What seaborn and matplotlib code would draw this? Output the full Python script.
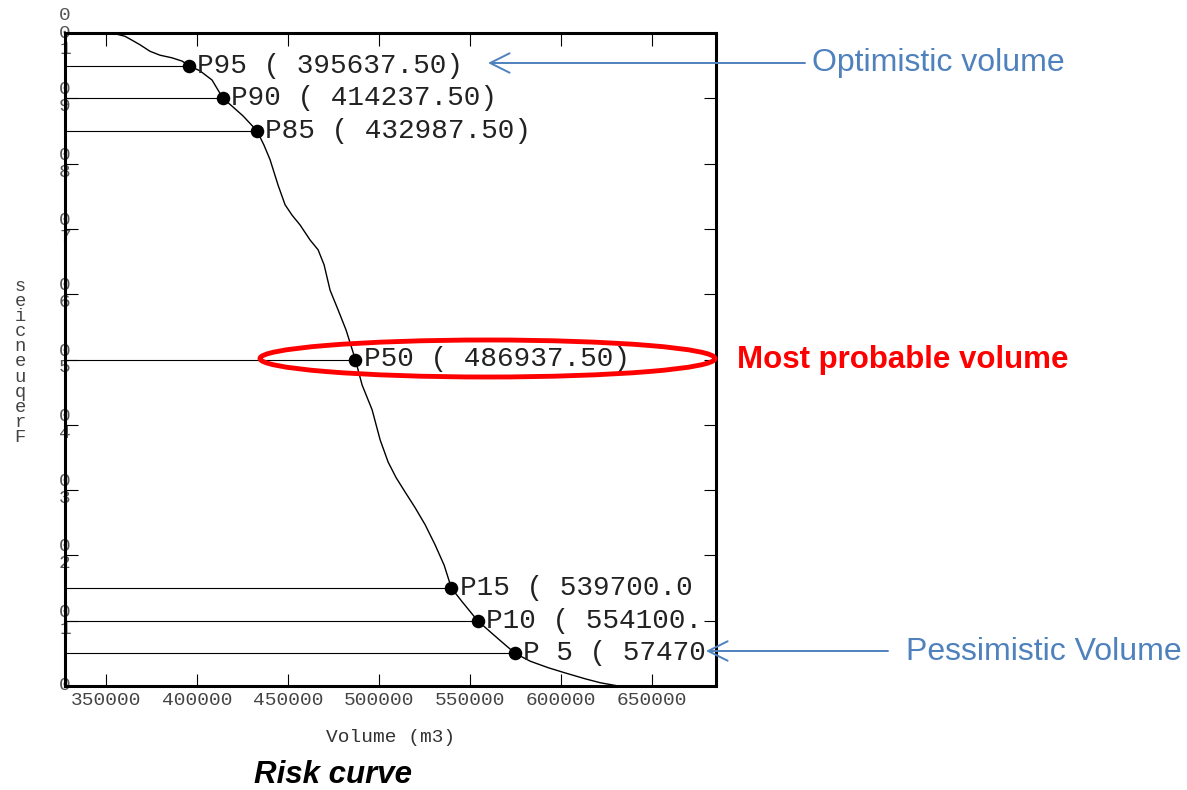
import matplotlib
matplotlib.use("Agg")
import matplotlib.pyplot as plt
import seaborn as sns
import numpy as np
from matplotlib.patches import Ellipse, FancyArrowPatch

# ---------------- data ----------------
curve_volume = [353300, 360440, 364290, 368680, 374180, 379670, 386260, 391760,
                395640, 401650, 408240, 414240, 419230, 425270, 432990, 436810,
                440110, 444510, 448350, 452200, 456600, 462090, 466490, 469780,
                473080, 477470, 481870, 486940, 490650, 496150, 500550, 504940,
                509340, 514280, 519780, 525270, 530770, 535710, 539700, 545600,
                554100, 560990, 567580, 574700, 582960, 592860, 602200, 613190,
                621430, 631320]
curve_freq = [1.000, 0.995, 0.989, 0.982, 0.972, 0.966, 0.962, 0.957,
              0.950, 0.942, 0.928, 0.900, 0.888, 0.873, 0.850, 0.828,
              0.806, 0.767, 0.737, 0.721, 0.706, 0.683, 0.668, 0.645,
              0.606, 0.576, 0.545, 0.500, 0.461, 0.423, 0.377, 0.343,
              0.319, 0.297, 0.273, 0.247, 0.216, 0.185, 0.150, 0.129,
              0.100, 0.083, 0.067, 0.050, 0.038, 0.028, 0.020, 0.011,
              0.005, 0.000]

pct_names = [95, 90, 85, 50, 15, 10, 5]
pct_volume = [395637.50, 414237.50, 432987.50, 486937.50, 539700.00, 554100.00, 574700.00]
pct_freq = [0.95, 0.90, 0.85, 0.50, 0.15, 0.10, 0.05]

x_ticks = [350000, 400000, 450000, 500000, 550000, 600000, 650000]
y_ticks = [0.0, 0.1, 0.2, 0.3, 0.4, 0.5, 0.6, 0.7, 0.8, 0.9, 1.0]
y_ticklabels = ["0", "0\n1", "0\n2", "0\n3", "0\n4", "0\n5", "0\n6", "0\n7", "0\n8", "0\n9", "0\n0\n1"]

x_label = "Volume (m3)"
y_label = "Frequencies"
title = "Risk curve"
note_opt = "Optimistic volume"
note_pess = "Pessimistic Volume"
note_most = "Most probable volume"

# ---------------- style ----------------
sns.set_style("white")
MONO = ["Liberation Mono", "DejaVu Sans Mono"]
SANS = ["Liberation Sans", "DejaVu Sans"]
plt.rcParams["font.family"] = SANS

W, H = 1187, 790
DPI = 100
fig = plt.figure(figsize=(W / DPI, H / DPI), dpi=DPI)
L, R, T, B = 65, 716, 33, 686
ax = fig.add_axes([L / W, 1 - B / H, (R - L) / W, (B - T) / H])
ax.set_facecolor("white")

# curve
sns.lineplot(x=curve_volume, y=curve_freq, sort=False, estimator=None,
             color="black", lw=1.0, ax=ax, zorder=3)

xmin, xmax = 327500, 685000
ax.set_xlim(xmin, xmax)
ax.set_ylim(0, 1)

# percentile guide lines and dots
ax.hlines(pct_freq, xmin, pct_volume, color="black", lw=0.8, zorder=2)
sns.scatterplot(x=pct_volume, y=pct_freq, color="black", s=95, edgecolor="black",
                linewidth=0, ax=ax, zorder=4)

# labels: whole characters only, truncated where they would leave the frame
LABEL_FS = 20
char_w = 0.6 * LABEL_FS * DPI / 72.0
offset_px = 6 * DPI / 72.0
limit_px = 708
for n, v, f in zip(pct_names, pct_volume, pct_freq):
    full = f"P{n:2d} ({v:10.2f})"
    x_px = (v - xmin) / (xmax - xmin) * (R - L) + L + offset_px
    nfit = int((limit_px - x_px) // char_w)
    txt = full[:max(0, nfit)]
    ax.annotate(txt, xy=(v, f), xytext=(6, 0),
                textcoords="offset points", va="center", ha="left",
                fontsize=LABEL_FS, family=MONO, color="#222222",
                annotation_clip=False, zorder=5)

# axes styling
for s in ax.spines.values():
    s.set_visible(True)
    s.set_color("black")
    s.set_linewidth(2.2)
ax.set_xticks(x_ticks)
ax.set_xticklabels([str(t) for t in x_ticks], family=MONO, fontsize=14, color="#444444")
ax.set_yticks(y_ticks)
ax.set_yticklabels(y_ticklabels, family=MONO, fontsize=14, color="#555555",
                   ha="center", va="center", linespacing=1.0)
ax.tick_params(axis="both", which="both", direction="in", length=9, width=0.8,
               color="black", top=True, right=True, bottom=True, left=True,
               labeltop=False, labelright=False)
ax.tick_params(axis="x", pad=4)
ax.tick_params(axis="y", pad=0)

ax.set_xlabel(x_label, family=MONO, fontsize=14, color="#333333", va="center")
ax.xaxis.set_label_coords((391 - L) / (R - L), -(738 - B) / (B - T))
ax.set_ylabel("\n".join(y_label[::-1]), rotation=0, family=MONO, fontsize=13.5,
              color="#444444", linespacing=0.86, ha="center", va="center")
ax.yaxis.set_label_coords((20 - L) / (R - L), (B - 362) / (B - T))

# ---------------- annotations outside the plot ----------------
blue = "#4F81BD"
fig.text(812 / W, 1 - 63 / H, note_opt, color=blue, fontsize=23, family=SANS,
         ha="left", va="center")
fig.text(906 / W, 1 - 652 / H, note_pess, color=blue, fontsize=23, family=SANS,
         ha="left", va="center")
fig.text(737 / W, 1 - 360 / H, note_most, color="#FF0000", fontsize=22.5, family=SANS,
         fontweight="bold", ha="left", va="center")
fig.text(333 / W, 1 - 775 / H, title, color="black", fontsize=22.5, family=SANS,
         fontweight="bold", fontstyle="italic", ha="center", va="center")

arrow_kw = dict(arrowstyle="->,head_length=0.7,head_width=0.35", color=blue, lw=1.4,
                mutation_scale=20, shrinkA=0, shrinkB=0)
fig.add_artist(FancyArrowPatch(
    (805 / W, 1 - 63 / H), (488 / W, 1 - 63 / H), transform=fig.transFigure, **arrow_kw))
fig.add_artist(FancyArrowPatch(
    (888 / W, 1 - 651 / H), (706 / W, 1 - 651 / H), transform=fig.transFigure, **arrow_kw))

ell = Ellipse((487.5 / W, 1 - 358.5 / H), 455 / W, 37 / H, transform=fig.transFigure,
              fill=False, edgecolor="#FF0000", lw=3.5, zorder=10)
fig.add_artist(ell)

fig.savefig("out.png", dpi=DPI)
